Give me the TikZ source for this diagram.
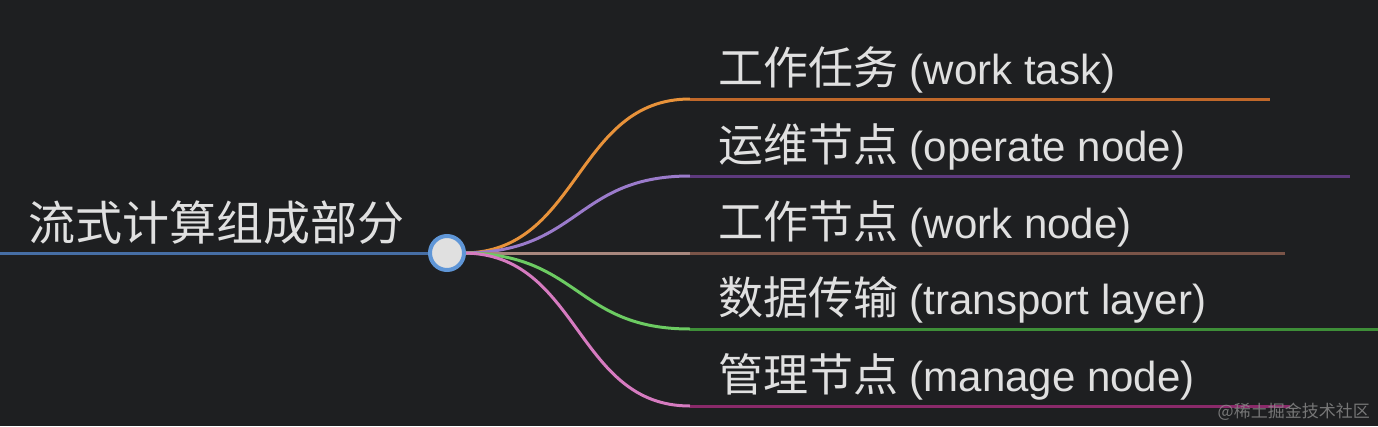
\documentclass[tikz,border=0pt]{standalone}
\usepackage{fontspec}
\setmainfont{Noto Sans CJK SC}
\newfontfamily\lat{Liberation Sans}
\begin{document}
\begin{tikzpicture}[x=1pt,y=-1pt,
  lbl/.style={anchor=base west,text=white!88!black,font=\fontsize{45}{48}\selectfont,inner sep=0pt},
  br/.style={line width=3pt}]
\definecolor{bg}{HTML}{1E1F21}
\fill[bg] (0,0) rectangle (1378,426);
\useasboundingbox (0,0) rectangle (1378,426);
\coordinate (s) at (0,253);
\coordinate (o) at (463,253);
\draw[br,color={rgb,255:red,70;green,110;blue,165}] (s) -- (430,253);
\node[lbl,font=\fontsize{47}{50}\selectfont] (root) at (28,240) {流式计算组成部分};
% branches
\foreach \y/\c/\d/\e/\a/\b [count=\i] in {
  99/E8923A/C0682A/1270/工作任务/work task,
  176/9B7BCB/5E3A7E/1350/运维节点/operate node,
  253/A8877E/7A5448/1285/工作节点/work node,
  329/6CCB62/3E8E38/1378/数据传输/transport layer,
  406/D67BC0/8A2A6A/1290/管理节点/manage node}{
  \definecolor{c\i}{HTML}{\c}
  \definecolor{d\i}{HTML}{\d}
  \coordinate (a\i) at (690,\y);
  \coordinate (b\i) at (\e,\y);
  \draw[br,color=c\i] (o) .. controls (580,253) and (575,\y) .. (a\i);
  \draw[br,color=d\i] (a\i) -- (b\i);
  \node[lbl] (t\i) at (718,\y-15) {\a{\lat\fontsize{42}{46}\selectfont\ (\b)}};
}
\node[circle,draw={rgb,255:red,95;green,150;blue,215},line width=4pt,fill=white!88!black,minimum size=34pt,inner sep=0pt] (c) at (447,253) {};
\node[anchor=base east,text=white!55!black,font=\fontsize{17}{18}\selectfont,inner sep=0pt,opacity=0.8] (wm) at (1370,417) {@稀土掘金技术社区};
\end{tikzpicture}
\end{document}
